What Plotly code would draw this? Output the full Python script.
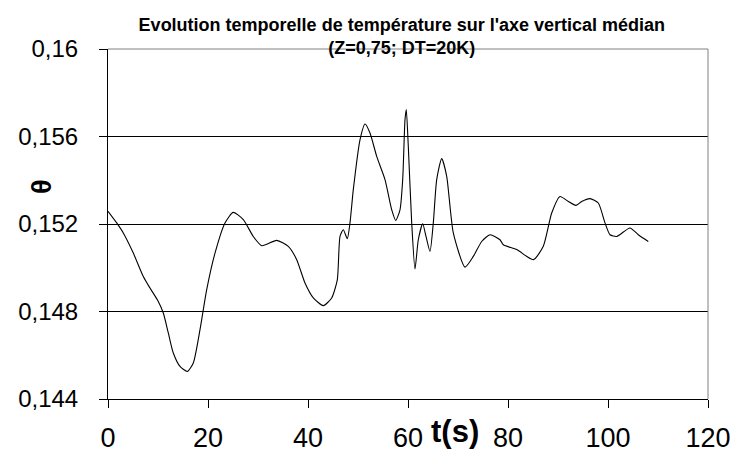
import plotly.graph_objects as go

# Temperature evolution on the median vertical axis
t_s = [0, 1.74, 3.06, 5.06, 7.06, 8.4, 10.06, 11.06, 12.06, 13.06, 14.4, 15.86,
       17.06, 18.4, 19.74, 21.4, 23.4, 25.06, 27.06, 29.06, 30.74, 33.74, 36.06,
       37.74, 39.4, 41.06, 43.06, 44.74, 45.86, 46.4, 47.06, 47.86, 48.4, 49.06,
       50.4, 51.4, 52.4, 53.74, 55.4, 56.74, 57.54, 58.4, 58.94, 59.4, 59.66,
       60.06, 60.74, 61.4, 62.06, 62.94, 63.6, 64.4, 65.06, 65.74, 66.74, 67.74,
       69.06, 71.4, 73.06, 74.74, 76.4, 78.4, 79.06, 81.74, 85.06, 87.06, 88.74,
       90.4, 92.06, 93.6, 94.74, 96.4, 98.06, 99.4, 100.4, 101.74, 104.4, 106.06,
       108.06]
theta = [0.15258, 0.15205, 0.15159, 0.15067, 0.14960, 0.14907, 0.14846, 0.14793,
         0.14702, 0.14610, 0.14549, 0.14526, 0.14565, 0.14717, 0.14900, 0.15067,
         0.15205, 0.15253, 0.15220, 0.15143, 0.15101, 0.15125, 0.15098, 0.15037,
         0.14930, 0.14862, 0.14827, 0.14862, 0.14945, 0.15143, 0.15174, 0.15133,
         0.15205, 0.15357, 0.15585, 0.15657, 0.15616, 0.15509, 0.15403, 0.15265,
         0.15216, 0.15265, 0.15403, 0.15677, 0.15723, 0.15555, 0.15205, 0.14994,
         0.15128, 0.15201, 0.15143, 0.15075, 0.15205, 0.15403, 0.15499, 0.15418,
         0.15159, 0.15003, 0.15052, 0.15120, 0.15151, 0.15128, 0.15105, 0.15083,
         0.15037, 0.15098, 0.15250, 0.15326, 0.15303, 0.15285, 0.15303, 0.15316,
         0.15296, 0.15205, 0.15151, 0.15143, 0.15182, 0.15151, 0.15120]

x_ticks = [0, 20, 40, 60, 80, 100, 120]
y_ticks = [0.144, 0.148, 0.152, 0.156, 0.16]
y_tick_text = ["0,144", "0,148", "0,152", "0,156", "0,16"]

FONT = "Liberation Sans, Arial, sans-serif"

fig = go.Figure()
fig.add_trace(go.Scatter(
    x=t_s, y=theta, mode="lines",
    line=dict(color="black", width=1.1, shape="spline", smoothing=0.6),
    showlegend=False, hoverinfo="skip",
))

fig.update_layout(
    width=736, height=455,
    margin=dict(l=108, r=28, t=49, b=56, autoexpand=False),
    paper_bgcolor="white", plot_bgcolor="white",
    title=dict(
        text="<b>Evolution temporelle de température sur l'axe vertical médian<br>(Z=0,75; DT=20K)</b>",
        x=0.546, xanchor="center", xref="container",
        y=0.932, yanchor="top", yref="container",
        font=dict(family=FONT, size=18, color="black"),
    ),
    xaxis=dict(
        range=[0, 120], tickvals=x_ticks, ticktext=[str(v) for v in x_ticks],
        showgrid=False, zeroline=False, automargin=False,
        showline=True, linecolor="black", linewidth=1,
        ticks="outside", ticklen=8, tickcolor="black", tickwidth=1,
        ticklabelstandoff=7,
        tickfont=dict(family=FONT, size=27, color="black"),
    ),
    yaxis=dict(
        range=[0.144, 0.16], tickvals=y_ticks, ticktext=y_tick_text,
        showgrid=True, gridcolor="black", gridwidth=1, zeroline=False,
        automargin=False,
        showline=True, linecolor="black", linewidth=1,
        ticks="outside", ticklen=8, tickcolor="black", tickwidth=1,
        ticklabelstandoff=16,
        tickfont=dict(family=FONT, size=24, color="black"),
    ),
    annotations=[
        dict(text="<b>θ</b>", xref="paper", yref="paper", x=-0.11, y=0.606,
             xanchor="center", yanchor="middle", textangle=-90, showarrow=False,
             font=dict(family=FONT, size=27, color="black")),
        dict(text="<b>t(s)</b>", xref="paper", yref="paper", x=0.578, y=-0.094,
             xanchor="center", yanchor="middle", showarrow=False,
             font=dict(family=FONT, size=31, color="black")),
    ],
    shapes=[
        dict(type="line", xref="x domain", yref="y domain", x0=0, x1=1, y0=1, y1=1,
             line=dict(color="#808080", width=1)),
        dict(type="line", xref="x domain", yref="y domain", x0=1, x1=1, y0=0, y1=1,
             line=dict(color="#808080", width=1)),
    ],
)

fig.write_html("out.html")
